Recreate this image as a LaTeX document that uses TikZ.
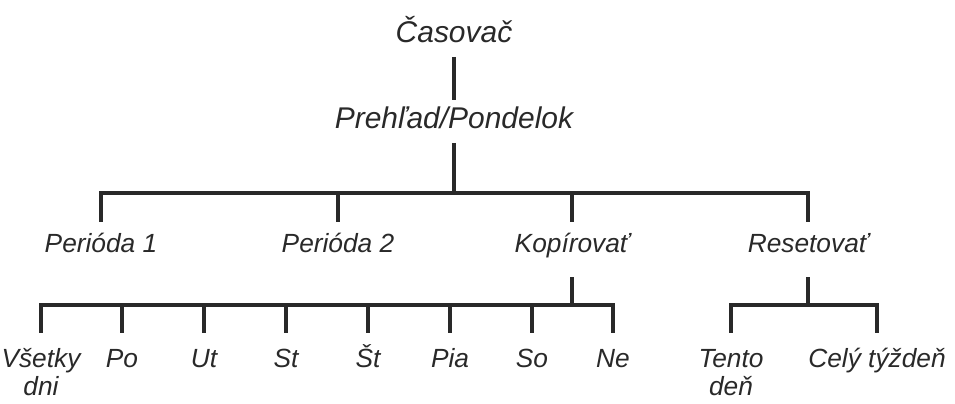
\documentclass[tikz,border=0pt]{standalone}
\usepackage{fontspec}
\setmainfont{Liberation Sans}
\usepackage{tikz}
\colorlet{treegray}{black!84}
\tikzset{
  lbltop/.style={font=\itshape\fontsize{21.3}{25}\selectfont, text=treegray, inner sep=0pt, anchor=base, text height=19.9pt, text depth=10.3pt},
  lblmid/.style={font=\itshape\fontsize{18.7}{20.6}\selectfont, text=treegray, inner sep=0pt, anchor=base, text height=21.7pt, text depth=17.4pt},
  lbllow/.style={font=\itshape\fontsize{18.7}{20.6}\selectfont, text=treegray, inner sep=0pt, anchor=base, text height=24.2pt},
  branch/.style={draw=treegray, line width=2.25pt}
}
\newcommand{\twolines}[2]{\begin{tabular}[t]{@{}c@{}}#1\\#2\end{tabular}}

\begin{document}
\begin{tikzpicture}[x=0.025cm,y=-0.025cm]
      \useasboundingbox (0,0) rectangle (955,403);

      \node[lbltop] (casovac) at (454,42) {Časovač};
      \node[lbltop] (prehlad) at (454,128) {Prehľad/Pondelok};

      \node[lblmid] (perioda1) at (101,252.5) {Perióda 1};
      \node[lblmid] (perioda2) at (338,252.5) {Perióda 2};
      \node[lblmid] (kopirovat) at (572,252.5) {Kopírovať};
      \node[lblmid] (resetovat) at (808,252.5) {Resetovať};

      \node[lbllow] (vsetky) at (41,367) {\twolines{Všetky}{dni}};
      \node[lbllow] (po) at (122,367) {Po};
      \node[lbllow] (ut) at (204,367) {Ut};
      \node[lbllow] (st) at (286,367) {St};
      \node[lbllow] (stv) at (368,367) {Št};
      \node[lbllow] (pia) at (450,367) {Pia};
      \node[lbllow] (so) at (532,367) {So};
      \node[lbllow] (ne) at (613,367) {Ne};
      \node[lbllow] (tento) at (731,367) {\twolines{Tento}{deň}};
      \node[lbllow] (cely) at (877,367) {Celý týždeň};

      \coordinate (tophub) at (454,193);
      \coordinate (kophub) at (572,305);
      \coordinate (resethub) at (808,305);

      \draw[branch] (casovac.south) -- (prehlad.north);
      \draw[branch] (prehlad.south) -- (tophub);
      \draw[branch] (tophub) -| (perioda1.north);
      \draw[branch] (tophub) -| (perioda2.north);
      \draw[branch] (tophub) -| (kopirovat.north);
      \draw[branch] (tophub) -| (resetovat.north);

      \draw[branch] (kopirovat.south) -- (kophub);
      \draw[branch] (kophub) -| (vsetky.north);
      \draw[branch] (kophub) -| (po.north);
      \draw[branch] (kophub) -| (ut.north);
      \draw[branch] (kophub) -| (st.north);
      \draw[branch] (kophub) -| (stv.north);
      \draw[branch] (kophub) -| (pia.north);
      \draw[branch] (kophub) -| (so.north);
      \draw[branch] (kophub) -| (ne.north);

      \draw[branch] (resetovat.south) -- (resethub);
      \draw[branch] (resethub) -| (tento.north);
      \draw[branch] (resethub) -| (cely.north);

\end{tikzpicture}
\end{document}
